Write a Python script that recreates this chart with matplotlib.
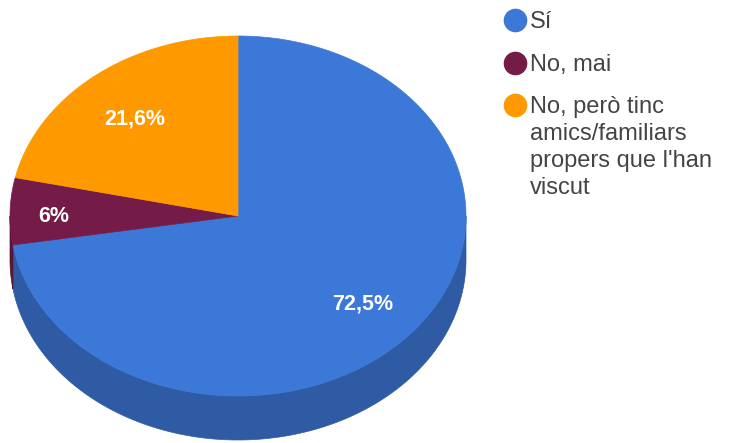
import numpy as np
import matplotlib.pyplot as plt
from matplotlib.patches import Polygon
from matplotlib.colors import to_rgb

labels = ['Sí', 'No, mai', "No, però tinc\namics/familiars\npropers que l'han\nviscut"]
values = [72.5, 6.0, 21.6]
pct_text = ['72,5%', '6%', '21,6%']
colors = ['#3c78d8', '#741b47', '#ff9900']

# geometry in pixels (figure is 730x443)
cx, cy = 238, 216
rx, ry = 228, 180
depth = 44
label_r = [0.72, 0.81, 0.72]

plt.rcParams['font.family'] = ['Liberation Sans', 'DejaVu Sans']

fig = plt.figure(figsize=(7.30, 4.43), dpi=100)
ax = fig.add_axes([0, 0, 1, 1])
ax.set_xlim(0, 730)
ax.set_ylim(443, 0)
ax.axis('off')


def darker(c, f=0.76):
    return tuple(v * f for v in to_rgb(c))


def pt(a, dy=0):
    a = np.radians(a)
    return cx + rx * np.cos(a), cy - ry * np.sin(a) + dy


# slice angles: start at 12 o'clock, go clockwise
total = sum(values)
bounds = [90.0]
for v in values:
    bounds.append(bounds[-1] - v / total * 360)

# side walls (front half only: angles -180..0)
for i, c in enumerate(colors):
    a_hi, a_lo = bounds[i], bounds[i + 1]
    for shift in (0, -360, 360):
        lo, hi = max(a_lo + shift, -180), min(a_hi + shift, 0)
        if hi > lo:
            t = np.linspace(lo, hi, 120)
            top = [pt(a) for a in t]
            bot = [pt(a, depth) for a in t[::-1]]
            ax.add_patch(Polygon(top + bot, closed=True, facecolor=darker(c),
                                 edgecolor=darker(c), lw=0.5))

# top faces
for i, c in enumerate(colors):
    t = np.linspace(bounds[i], bounds[i + 1], 300)
    verts = [(cx, cy)] + [pt(a) for a in t]
    ax.add_patch(Polygon(verts, closed=True, facecolor=c, edgecolor=c, lw=0.5))

# percentage labels
for i in range(len(values)):
    mid = np.radians((bounds[i] + bounds[i + 1]) / 2)
    x = cx + label_r[i] * rx * np.cos(mid)
    y = cy - label_r[i] * ry * np.sin(mid) + 4
    ax.text(x, y, pct_text[i], color='white', fontsize=15.5, fontweight='bold',
            ha='center', va='center')

# legend
leg_y = [20, 63, 105]
for i, c in enumerate(colors):
    ax.plot(515, leg_y[i], 'o', ms=16, color=c, mec=c)
    ax.text(530, leg_y[i] - 9, labels[i], color='#444444', fontsize=17,
            ha='left', va='top', linespacing=1.3)

fig.savefig('out.png', dpi=100)
